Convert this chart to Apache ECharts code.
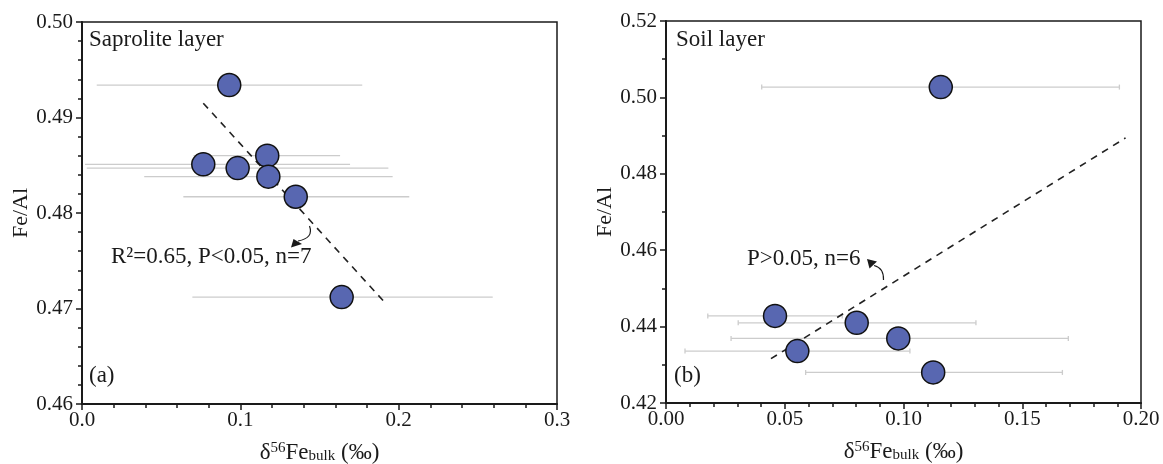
<!DOCTYPE html>
<html>
<head>
<meta charset="utf-8">
<script src="https://cdn.jsdelivr.net/npm/echarts@6/dist/echarts.min.js"></script>
<style>
  html, body { margin: 0; padding: 0; background: #fff; }
  #container { width: 1163px; height: 464px; }
</style>
</head>
<body>
<div id="container"></div>
<script>
// (a) saprolite layer: [d56Fe bulk, Fe/Al]
const saproliteXY = [
    [0.0930, 0.4934], [0.0766, 0.4851], [0.0983, 0.4847], [0.1170, 0.4860],
    [0.1177, 0.4838], [0.1350, 0.4817], [0.1640, 0.4712]
];
// horizontal error bars [low, high]
const saproliteErr = [
    [0.0093, 0.1770], [0.0019, 0.1693], [0.0030, 0.1935], [0.0704, 0.1630],
    [0.0393, 0.1962], [0.0640, 0.2067], [0.0697, 0.2594]
];
const saproliteFit = [[0.0766, 0.4915], [0.1903, 0.4708]];

// (b) soil layer
const soilXY = [
    [0.1157, 0.5027], [0.0459, 0.4428], [0.0803, 0.4410],
    [0.0978, 0.4369], [0.0553, 0.4336], [0.1125, 0.4280]
];
const soilErr = [
    [0.0403, 0.1909], [0.0176, 0.0742], [0.0304, 0.1305],
    [0.0274, 0.1694], [0.0080, 0.1027], [0.0588, 0.1669]
];
const soilFit = [[0.0442, 0.4316], [0.1935, 0.4894]];

const FONT = '"Liberation Serif", "Times New Roman", serif';
const INK = '#1a1a1a';

function draw_panels() {
    let dom = document.getElementById("container");
    let myChart = echarts.init(dom);

    function errRender(cap) {
        return function (params, api) {
            let y = api.value(2);
            let p1 = api.coord([api.value(0), y]);
            let p2 = api.coord([api.value(1), y]);
            let st = {stroke: '#cccccc', lineWidth: 1.3};
            let kids = [{type: 'line', shape: {x1: p1[0], y1: p1[1], x2: p2[0], y2: p2[1]}, style: st}];
            if (cap) {
                kids.push({type: 'line', shape: {x1: p1[0], y1: p1[1] - cap, x2: p1[0], y2: p1[1] + cap}, style: st});
                kids.push({type: 'line', shape: {x1: p2[0], y1: p2[1] - cap, x2: p2[0], y2: p2[1] + cap}, style: st});
            }
            return {type: 'group', children: kids};
        };
    }

    function xAxisOf(idx, max, interval, digits) {
        return {
            gridIndex: idx, type: 'value', min: 0, max: max, interval: interval,
            name: '{d|δ}{sup|56}{n|Fe}{sub|bulk}{n| (‰)}',
            nameLocation: 'middle', nameGap: 37,
            nameTextStyle: {
                color: INK, fontFamily: FONT, fontSize: 23,
                rich: {
                    d: {fontFamily: FONT, fontSize: 23, color: INK},
                    n: {fontFamily: FONT, fontSize: 23, color: INK},
                    sup: {fontFamily: FONT, fontSize: 15, color: INK, verticalAlign: 'top'},
                    sub: {fontFamily: FONT, fontSize: 15, color: INK, verticalAlign: 'bottom'}
                }
            },
            axisLine: {onZero: false, lineStyle: {color: INK, width: 2}},
            axisTick: {inside: false, length: 6, lineStyle: {color: INK, width: 1.5}},
            minorTick: {show: true, splitNumber: 5, length: 4, lineStyle: {color: INK, width: 1.5}},
            splitLine: {show: false},
            axisLabel: {
                color: INK, fontFamily: FONT, fontSize: 21, margin: 6,
                formatter: function (v) { return v.toFixed(digits); }
            }
        };
    }

    function yAxisOf(idx, min, max, interval, minor) {
        return {
            gridIndex: idx, type: 'value', min: min, max: max, interval: interval,
            name: 'Fe/Al', nameLocation: 'middle', nameGap: 50,
            nameTextStyle: {color: INK, fontFamily: FONT, fontSize: 22},
            axisLine: {onZero: false, lineStyle: {color: INK, width: 2}},
            axisTick: {inside: false, length: 6, lineStyle: {color: INK, width: 1.5}},
            minorTick: {show: true, splitNumber: minor, length: 4, lineStyle: {color: INK, width: 1.5}},
            splitLine: {show: false},
            axisLabel: {
                color: INK, fontFamily: FONT, fontSize: 21, margin: 9,
                formatter: function (v) { return v.toFixed(2); }
            }
        };
    }

    let dotStyle = {color: '#5867b1', borderColor: '#111', borderWidth: 1.5, opacity: 1};
    let fitStyle = {color: '#222', width: 1.6, type: [7, 6]};
    let textStyle = {fill: INK, font: '23px ' + FONT};

    let option = {
        animation: false,
        backgroundColor: '#fff',
        grid: [
            {left: 82, top: 22, width: 475, height: 382, outerBoundsMode: 'none',
                show: true, borderColor: INK, borderWidth: 1.5},
            {left: 666, top: 21, width: 475, height: 382, outerBoundsMode: 'none',
                show: true, borderColor: INK, borderWidth: 1.5}
        ],
        xAxis: [
            xAxisOf(0, 0.3, 0.1, 1),
            xAxisOf(1, 0.2, 0.05, 2)
        ],
        yAxis: [
            yAxisOf(0, 0.46, 0.50, 0.01, 5),
            yAxisOf(1, 0.42, 0.52, 0.02, 2)
        ],
        series: [
            {
                type: 'custom', xAxisIndex: 0, yAxisIndex: 0, z: 1,
                renderItem: errRender(0),
                encode: {x: [0, 1], y: 2},
                data: saproliteErr.map(function (e, i) { return [e[0], e[1], saproliteXY[i][1]]; })
            },
            {
                type: 'line', xAxisIndex: 0, yAxisIndex: 0, z: 2,
                symbol: 'none', lineStyle: fitStyle, data: saproliteFit
            },
            {
                type: 'scatter', xAxisIndex: 0, yAxisIndex: 0, z: 3,
                symbolSize: 23, itemStyle: dotStyle, data: saproliteXY
            },
            {
                type: 'custom', xAxisIndex: 1, yAxisIndex: 1, z: 1,
                renderItem: errRender(2.5),
                encode: {x: [0, 1], y: 2},
                data: soilErr.map(function (e, i) { return [e[0], e[1], soilXY[i][1]]; })
            },
            {
                type: 'line', xAxisIndex: 1, yAxisIndex: 1, z: 2,
                symbol: 'none', lineStyle: fitStyle, data: soilFit
            },
            {
                type: 'scatter', xAxisIndex: 1, yAxisIndex: 1, z: 3,
                symbolSize: 23, itemStyle: dotStyle, data: soilXY
            }
        ],
        graphic: [
            {type: 'text', left: 89, top: 28, style: Object.assign({text: 'Saprolite layer'}, textStyle)},
            {type: 'text', left: 89, top: 364, style: Object.assign({text: '(a)'}, textStyle)},
            {type: 'text', left: 676, top: 28, style: Object.assign({text: 'Soil layer'}, textStyle)},
            {type: 'text', left: 674, top: 364, style: Object.assign({text: '(b)'}, textStyle)},
            {type: 'text', left: 111, top: 245, style: Object.assign({text: 'R²=0.65, P<0.05, n=7'}, textStyle)},
            {type: 'text', left: 747, top: 247, style: Object.assign({text: 'P>0.05, n=6'}, textStyle)},
            // curved pointers
            {type: 'bezierCurve', shape: {x1: 309.5, y1: 226, cpx1: 314, cpy1: 238, x2: 298, y2: 241},
                style: {stroke: INK, lineWidth: 1.2, fill: null}},
            {type: 'polygon', shape: {points: [[291, 247.5], [293.5, 239], [302, 244]]}, style: {fill: INK}},
            {type: 'bezierCurve', shape: {x1: 874, y1: 265.5, cpx1: 884, cpy1: 268, x2: 883.5, y2: 280},
                style: {stroke: INK, lineWidth: 1.2, fill: null}},
            {type: 'polygon', shape: {points: [[867, 259], [869.5, 268.5], [877, 261.5]]}, style: {fill: INK}}
        ]
    };

    if (option && typeof option === "object") {
        myChart.setOption(option, true);
    }
}

draw_panels();
</script>
</body>
</html>
